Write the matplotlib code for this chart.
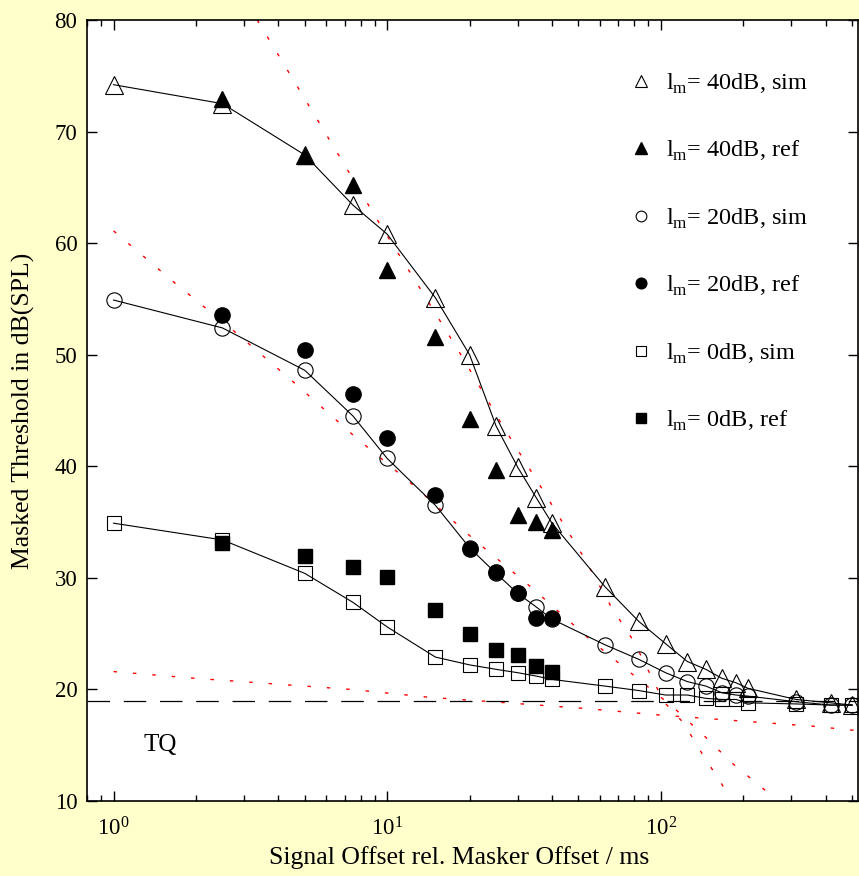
import matplotlib.pyplot as plt
from matplotlib.ticker import LogLocator, NullFormatter, MultipleLocator

plt.rcParams['font.family'] = 'Liberation Serif'
plt.rcParams['mathtext.fontset'] = 'custom'
plt.rcParams['mathtext.rm'] = 'Liberation Serif'

# signal offset (ms)
t_sim = [1, 2.5, 5, 7.5, 10, 15, 20, 25, 30, 35, 40, 62.5, 83, 104, 125, 146, 167, 188, 208, 312, 417, 500]
t_ref = [2.5, 5, 7.5, 10, 15, 20, 25, 30, 35, 40]

# masked thresholds, dB(SPL)
sim_40 = [74.2, 72.5, 67.9, 63.4, 60.8, 55.1, 50.0, 43.6, 39.9, 37.2, 34.9,
          29.2, 26.1, 24.1, 22.5, 21.8, 21.0, 20.6, 20.1, 19.1, 18.8, 18.6]
ref_40 = [72.9, 67.8, 65.2, 57.6, 51.6, 44.2, 39.7, 35.6, 35.0, 34.3]
sim_20 = [54.9, 52.4, 48.6, 44.5, 40.7, 36.5, 32.7, 30.4, 28.6, 27.4, 26.3,
          24.0, 22.7, 21.5, 20.7, 20.3, 19.7, 19.5, 19.4, 18.9, 18.6, 18.6]
ref_20 = [53.6, 50.4, 46.5, 42.5, 37.4, 32.6, 30.5, 28.6, 26.4, 26.4]
sim_0 = [34.9, 33.4, 30.4, 27.8, 25.6, 22.9, 22.2, 21.8, 21.5, 21.2, 20.9,
         20.3, 19.9, 19.5, 19.5, 19.2, 19.1, 19.1, 18.8, 18.7, 18.6, 18.6]
ref_0 = [33.1, 32.0, 31.0, 30.1, 27.1, 25.0, 23.5, 23.1, 22.1, 21.6]

# red dotted model curves
red40_x = [3.35, 4.73, 6.68, 9.35, 13.3, 18.8, 26.3, 37.4, 52.4, 66.2, 79.7, 102.5, 121, 141, 167, 181]
red40_y = [80.0, 73.9, 67.8, 61.8, 55.8, 49.8, 43.7, 37.7, 31.8, 27.3, 24.3, 18.9, 17.0, 14.3, 11.5, 10.1]
red20_x = [1.0, 1.68, 2.79, 4.62, 7.58, 12.6, 20.4, 33.8, 55.5, 81.1, 111, 146, 182, 234, 265]
red20_y = [61.1, 56.4, 52.0, 47.4, 42.7, 38.2, 33.6, 29.1, 24.4, 21.1, 18.4, 15.7, 13.4, 11.2, 10.1]
red0_x = [1.0, 1.98, 3.84, 7.39, 14.2, 27.4, 52.4, 100, 189, 361, 525]
red0_y = [21.6, 21.0, 20.5, 20.0, 19.3, 18.8, 18.3, 17.7, 17.2, 16.7, 16.3]

tq_level = 19.0

labels = [r'l$_{\mathregular{m}}$= 40dB, sim', r'l$_{\mathregular{m}}$= 40dB, ref',
          r'l$_{\mathregular{m}}$= 20dB, sim', r'l$_{\mathregular{m}}$= 20dB, ref',
          r'l$_{\mathregular{m}}$= 0dB, sim', r'l$_{\mathregular{m}}$= 0dB, ref']

fig = plt.figure(figsize=(8.59, 8.76), dpi=100, facecolor='#ffffcc')
ax = fig.add_axes([0.1013, 0.0856, 0.8975, 0.8916])
ax.set_facecolor('white')

dots = (0, (2.5, 11.5))
for rx, ry in [(red40_x, red40_y), (red20_x, red20_y), (red0_x, red0_y)]:
    ax.plot(rx, ry, color='red', lw=1.0, ls=dots, zorder=1)

ax.axhline(tq_level, color='black', lw=0.9, ls=(0, (18, 11)), zorder=1)

for ys in [sim_40, sim_20, sim_0]:
    ax.plot(t_sim, ys, color='black', lw=0.8, zorder=2)

ax.plot(t_sim, sim_40, ls='none', marker='^', ms=13, mfc='none', mec='black', mew=0.8, label=labels[0], zorder=3)
ax.plot(t_ref, ref_40, ls='none', marker='^', ms=12, mfc='black', mec='black', label=labels[1], zorder=4)
ax.plot(t_sim, sim_20, ls='none', marker='o', ms=11, mfc='none', mec='black', mew=0.8, label=labels[2], zorder=3)
ax.plot(t_ref, ref_20, ls='none', marker='o', ms=11, mfc='black', mec='black', label=labels[3], zorder=4)
ax.plot(t_sim, sim_0, ls='none', marker='s', ms=10, mfc='none', mec='black', mew=0.8, label=labels[4], zorder=3)
ax.plot(t_ref, ref_0, ls='none', marker='s', ms=10, mfc='black', mec='black', label=labels[5], zorder=4)

ax.text(1.48, 15.0, 'TQ', fontsize=18, ha='center', va='center')

ax.set_xscale('log')
ax.set_xlim(0.8, 525)
ax.set_ylim(10, 80)
ax.yaxis.set_major_locator(MultipleLocator(10))
ax.xaxis.set_major_locator(LogLocator(base=10))
ax.xaxis.set_minor_locator(LogLocator(base=10, subs=range(2, 10)))
ax.xaxis.set_minor_formatter(NullFormatter())

ax.tick_params(which='both', direction='in', top=True, right=True, width=1)
ax.tick_params(which='major', length=7, labelsize=16.5)
ax.tick_params(which='minor', length=4)
ax.tick_params(axis='x', pad=12)
ax.tick_params(axis='y', pad=7)
for s in ax.spines.values():
    s.set_linewidth(1.2)

ax.set_xlabel('Signal Offset rel. Masker Offset / ms', fontsize=18.5)
ax.set_ylabel('Masked Threshold in dB(SPL)', fontsize=18.5)
ax.xaxis.set_label_coords(0.4825, -0.058)
ax.yaxis.set_label_coords(-0.067, 0.50)

ax.legend(loc='upper left', bbox_to_anchor=(0.675, 0.962), frameon=False, fontsize=17.5,
          labelspacing=1.78, handlelength=1.0, handletextpad=0.5, markerscale=0.7)

fig.savefig('out.png', dpi=100, facecolor=fig.get_facecolor())
